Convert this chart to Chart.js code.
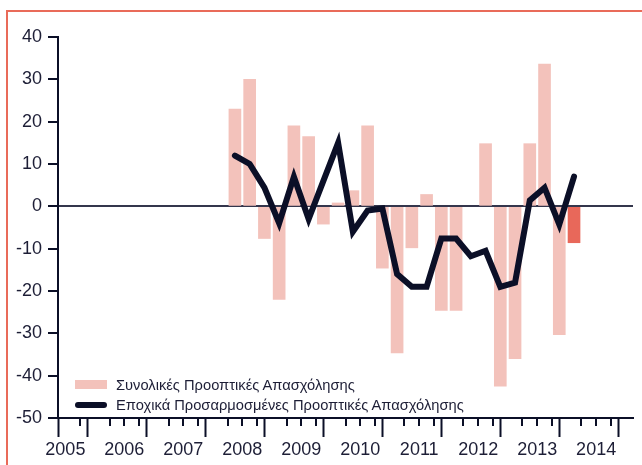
<!DOCTYPE html>
<html>
<head>
<meta charset="utf-8">
<script src="https://cdn.jsdelivr.net/npm/chart.js@4.4.0/dist/chart.umd.min.js"></script>
<style>
  html, body { margin: 0; padding: 0; background: #fff; }
  #wrap { position: relative; width: 642px; height: 465px; overflow: hidden; }
  #frame {
    position: absolute; left: 6px; top: 10px; width: 700px; height: 500px;
    border-top: 2px solid #e96b59; border-left: 2px solid #e96b59;
  }
  canvas { position: absolute; left: 0; top: 0; }
  .legend { position: absolute; left: 75px; font-family: "Liberation Sans", Arial, sans-serif;
    font-size: 14.7px; color: #1d1e36; white-space: nowrap; }
  .legend .sw { position: absolute; left: 0; width: 32px; }
  .legend .txt { position: absolute; left: 41px; line-height: 18px; }
</style>
</head>
<body>
<div id="wrap">
  <div id="frame"></div>
  <canvas id="chart" width="642" height="465"></canvas>
  <div class="legend" style="top:376px;">
    <div class="sw" style="top:4px;height:9px;background:#f3c2bb;"></div>
    <div class="txt" style="top:0;">Συνολικές Προοπτικές Απασχόλησης</div>
  </div>
  <div class="legend" style="top:396px;">
    <div class="sw" style="top:6px;height:6px;border-radius:3px;background:#0b0f27;"></div>
    <div class="txt" style="top:0;">Εποχικά Προσαρμοσμένες Προοπτικές Απασχόλησης</div>
  </div>
</div>
<script>
// quarters shown (2012 Q2 has no bar)
const quarters = [
  "2008 Q2", "2008 Q3", "2008 Q4",
  "2009 Q1", "2009 Q2", "2009 Q3", "2009 Q4",
  "2010 Q1", "2010 Q2", "2010 Q3", "2010 Q4",
  "2011 Q1", "2011 Q2", "2011 Q3", "2011 Q4",
  "2012 Q1", "2012 Q2", "2012 Q3", "2012 Q4",
  "2013 Q1", "2013 Q2", "2013 Q3", "2013 Q4",
  "2014 Q1"
];
const totalOutlook = [
  23, 30, -7.6,
  -22, 19, 16.5, -4.2,
  0.8, 3.7, 19, -14.6,
  -34.6, -9.8, 2.8, -24.6,
  -24.6, null, 14.8, -42.5,
  -36, 14.8, 33.6, -30.3,
  -8.6
];
const seasonalOutlook = [
  12, 10, 4.4,
  -4, 7, -3, 6,
  15, -6, -1, -0.5,
  -16, -19, -19, -7.6,
  -7.6, -11.8, -10.5, -19,
  -18, 1.4, 4.4, -4.3,
  7
];
const yearLabels = ["2005", "2006", "2007", "2008", "2009", "2010", "2011", "2012", "2013", "2014"];
const yTicks = [40, 30, 20, 10, 0, -10, -20, -30, -40, -50];

const NAVY = "#0b0f27";
const BAR = "#f3c2bb";
const BAR_LAST = "#e8685a";

/* HELPERS */
function quarterCenter(label) {
  const [y, q] = label.split(" Q");
  return +y + (+q - 1) / 4 + 0.125;
}

const barPoints = quarters.map((q, i) => ({ x: quarterCenter(q), y: totalOutlook[i] }));
const linePoints = quarters.map((q, i) => ({ x: quarterCenter(q), y: seasonalOutlook[i] }));

// short quarterly ticks under the x axis
const minorTicks = {
  id: "minorTicks",
  afterDraw(chart) {
    const sx = chart.scales.x;
    const ctx = chart.ctx;
    const y0 = chart.chartArea.bottom;
    ctx.save();
    ctx.strokeStyle = NAVY;
    ctx.lineWidth = 2;
    sx.ticks.forEach((t, i) => {
      if (i === 0 || Number.isInteger(t.value)) return;
      const x = Math.round(sx.getPixelForValue(t.value));
      ctx.beginPath();
      ctx.moveTo(x, y0);
      ctx.lineTo(x, y0 + 8);
      ctx.stroke();
    });
    ctx.restore();
  }
};

function isMajor(c) {
  if (!c.tick) return false;
  return c.index === 0 || Number.isInteger(c.tick.value);
}

new Chart(document.getElementById("chart"), {
  data: {
    datasets: [
      {
        type: "line",
        label: "Εποχικά Προσαρμοσμένες Προοπτικές Απασχόλησης",
        data: linePoints,
        borderColor: NAVY,
        borderWidth: 6,
        borderCapStyle: "round",
        pointRadius: 0,
        tension: 0,
        order: 0
      },
      {
        type: "bar",
        label: "Συνολικές Προοπτικές Απασχόλησης",
        data: barPoints,
        backgroundColor: barPoints.map((p, i) => i === barPoints.length - 1 ? BAR_LAST : BAR),
        barThickness: 12,
        order: 1
      }
    ]
  },
  options: {
    responsive: false,
    animation: false,
    devicePixelRatio: 1,
    layout: { padding: { left: 0, right: 9, top: 37, bottom: 0 } },
    plugins: { legend: { display: false }, tooltip: { enabled: false } },
    scales: {
      x: {
        type: "linear",
        min: 2005.5,
        max: 2015,
        afterFit: (s) => { s.height = 47; },
        border: { display: true, color: NAVY, width: 2 },
        grid: {
          drawOnChartArea: false,
          tickLength: 19,
          tickWidth: 2,
          color: (c) => isMajor(c) ? NAVY : "transparent",
          tickColor: (c) => isMajor(c) ? NAVY : "transparent"
        },
        ticks: {
          stepSize: 0.25,
          autoSkip: false,
          maxRotation: 0,
          padding: 2,
          color: "#1d1e36",
          font: { family: "Liberation Sans", size: 18 },
          callback: (v) => {
            const i = v - 2005.5;
            return Number.isInteger(i) ? yearLabels[i] : "";
          }
        }
      },
      y: {
        min: -50,
        max: 40,
        afterFit: (s) => { s.width = 58; },
        afterBuildTicks: (s) => { s.ticks = yTicks.map(v => ({ value: v })); },
        border: { display: true, color: NAVY, width: 2 },
        grid: {
          drawOnChartArea: true,
          tickLength: 10,
          lineWidth: 2,
          tickWidth: 2,
          color: (c) => c.tick && c.tick.value === 0 ? "#34364c" : "transparent",
          tickColor: NAVY
        },
        ticks: {
          padding: 6,
          color: "#1d1e36",
          font: { family: "Liberation Sans", size: 18 }
        }
      }
    }
  },
  plugins: [minorTicks]
});
</script>
</body>
</html>
